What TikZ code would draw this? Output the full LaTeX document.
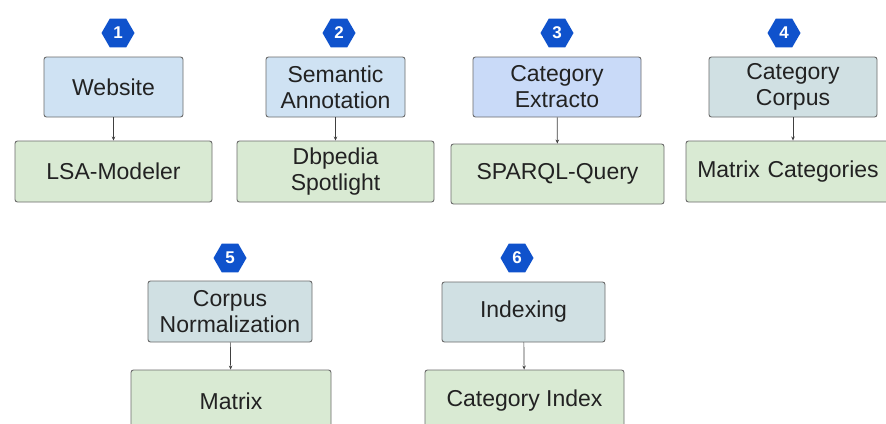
\documentclass[tikz,border=0pt]{standalone}
\usepackage{fontspec}
\setmainfont{Liberation Sans}
\usetikzlibrary{shapes.geometric,arrows.meta}
\definecolor{bluebox}{HTML}{CFE2F3}
\definecolor{cornbox}{HTML}{C9DAF8}
\definecolor{cyanbox}{HTML}{D0E0E3}
\definecolor{greenbox}{HTML}{D9EAD3}
\definecolor{edgegray}{HTML}{6B6B6B}
\definecolor{hexblue}{HTML}{0F52CC}
\definecolor{txt}{HTML}{222222}
\tikzset{
  box/.style={draw=edgegray, line width=0.9pt, rounded corners=2.5pt, inner sep=0pt,
    align=center, text=txt, font=\fontsize{23}{26}\selectfont},
  hexnum/.style={regular polygon, regular polygon sides=6, fill=hexblue, draw=none,
    minimum size=33pt, inner sep=0pt, text=white, font=\fontsize{17}{17}\selectfont\bfseries},
  conn/.style={draw=black!75, line width=0.7pt, -{Stealth[length=4pt,width=3.5pt]}}
}
\begin{document}
\begin{tikzpicture}[x=1pt,y=-1pt]
\useasboundingbox (0,0) rectangle (886,423);
\clip (0,0) rectangle (886,423);
\fill[white] (0,0) rectangle (886,423);
% row 1
\node[hexnum] (h1) at (118,33) {1};
\node[box, fill=bluebox, minimum width=139pt, minimum height=60pt] (t1) at (113.5,87) {Website};
\node[box, fill=greenbox, minimum width=197pt, minimum height=61pt] (b1) at (113.5,171.5) {LSA-Modeler};
\draw[conn] (t1) -- (b1);

\node[hexnum] (h2) at (339,33) {2};
\node[box, fill=bluebox, minimum width=139pt, minimum height=60pt] (t2) at (335.5,87) {Semantic\\Annotation};
\node[box, fill=greenbox, minimum width=197pt, minimum height=61pt] (b2) at (335.5,171.5) {Dbpedia\\Spotlight};
\draw[conn] (t2) -- (b2);

\node[hexnum] (h3) at (557,33) {3};
\node[box, fill=cornbox, minimum width=168pt, minimum height=60pt] (t3) at (557,87) {Category\\Extracto};
\node[box, fill=greenbox, minimum width=213pt, minimum height=60pt] (b3) at (557.5,174) {SPARQL-Query};
\draw[conn] (t3) -- (b3);

\node[hexnum] (h4) at (784,33) {4};
\node[box, fill=cyanbox, minimum width=168pt, minimum height=60pt] (t4) at (793,87) {Category\\Corpus};
\node[box, fill=greenbox, minimum width=214pt, minimum height=61pt, text width=200pt] (b4) at (793,171.5) {\hspace*{-10pt}Matrix Categories};
\draw[conn] (t4) -- (b4);

% row 2
\node[hexnum] (h5) at (230,258) {5};
\node[box, fill=cyanbox, minimum width=164pt, minimum height=61pt] (t5) at (230,311.5) {Corpus\\Normalization};
\node[box, fill=greenbox, minimum width=200pt, minimum height=62pt] (b5) at (231,401) {Matrix};
\draw[conn] (t5) -- (b5);

\node[hexnum] (h6) at (517,258) {6};
\node[box, fill=cyanbox, minimum width=163pt, minimum height=60pt] (t6) at (523.5,312) {Indexing};
\node[box, fill=greenbox, minimum width=199pt, minimum height=62pt] (b6) at (524.5,401) {Category Index};
\draw[conn] (t6) -- (b6);
\end{tikzpicture}
\end{document}
